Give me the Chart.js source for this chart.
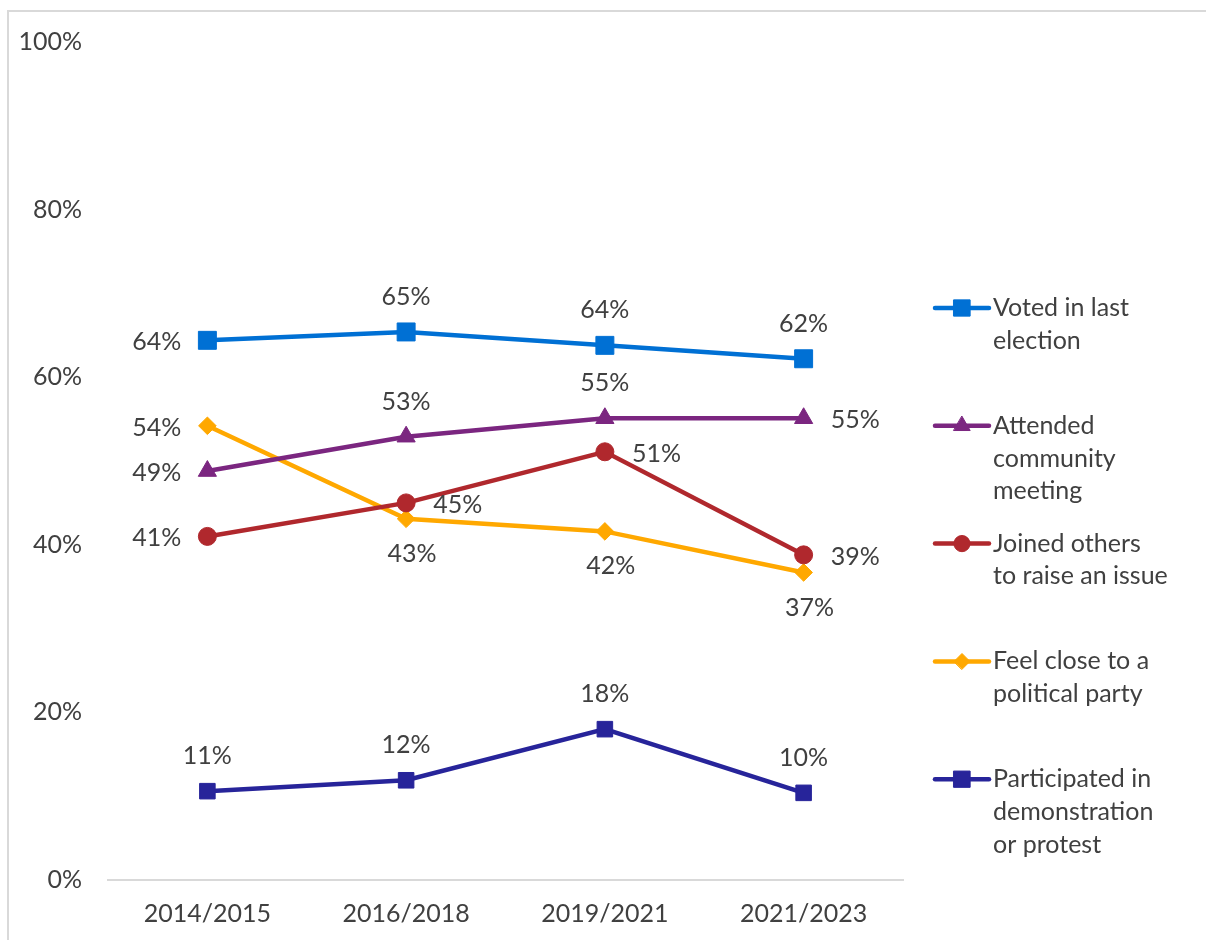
<!DOCTYPE html>
<html>
<head>
<meta charset="utf-8">
<script src="https://cdn.jsdelivr.net/npm/chart.js@4.4.0/dist/chart.umd.min.js"></script>
<style>
  html, body { margin: 0; padding: 0; background: #fff; overflow: hidden; }
</style>
</head>
<body>
<canvas id="grafico" width="1206" height="940"></canvas>
<script>
// dados
const categorias = ['2014/2015', '2016/2018', '2019/2021', '2021/2023'];
const votou = [64.4, 65.4, 63.8, 62.2];
const reuniao = [48.8, 52.9, 55.1, 55.1];
const juntou = [41.0, 45.0, 51.1, 38.8];
const partido = [54.2, 43.1, 41.6, 36.7];
const protesto = [10.6, 11.9, 18.0, 10.4];
const ticksY = [0, 20, 40, 60, 80, 100];

const nomes = [
  ['Voted in last', 'election'],
  ['Attended', 'community', 'meeting'],
  ['Joined others', 'to raise an issue'],
  ['Feel close to a', 'political party'],
  ['Participated in', 'demonstration', 'or protest']
];

const fonte = 'Lato, "Open Sans", sans-serif';
const corTexto = '#404040';

function serie(nome, dados, cor, estilo, raio, posicoes) {
  return {
    label: nome.join(' '),
    linhas: nome,
    data: dados,
    borderColor: cor,
    backgroundColor: cor,
    borderWidth: 4.5,
    pointStyle: estilo,
    pointRadius: raio,
    pointBorderWidth: 1,
    pointBackgroundColor: cor,
    pointBorderColor: cor,
    tension: 0,
    posicoes: posicoes
  };
}

// rotulos de dados
const rotulos = {
  id: 'rotulos',
  afterDatasetsDraw(chart) {
    const ctx = chart.ctx;
    ctx.save();
    ctx.font = '25px ' + fonte;
    ctx.fillStyle = corTexto;
    chart.data.datasets.forEach((ds, i) => {
      const meta = chart.getDatasetMeta(i);
      meta.data.forEach((pt, j) => {
        const txt = Math.round(ds.data[j]) + '%';
        const pos = ds.posicoes[j];
        let x = pt.x, y = pt.y;
        ctx.textBaseline = 'middle';
        if (pos === 'left') { ctx.textAlign = 'right'; x -= 26; y += 2; }
        else if (pos === 'right') { ctx.textAlign = 'left'; x += 27; y += 2; }
        else if (pos === 'top') { ctx.textAlign = 'center'; y -= 35; }
        else { ctx.textAlign = 'center'; x += 6; y += 35; }
        ctx.fillText(txt, x, y);
      });
    });
    ctx.restore();
  }
};

// legenda com texto quebrado
const legenda = {
  id: 'legenda',
  afterDraw(chart) {
    const ctx = chart.ctx;
    const area = chart.chartArea;
    const x0 = area.right + 30;
    ctx.save();
    chart.data.datasets.forEach((ds, i) => {
      const y = 308 + i * 117.8;
      ctx.strokeStyle = ds.borderColor;
      ctx.fillStyle = ds.borderColor;
      ctx.lineWidth = 4.5;
      ctx.lineCap = 'round';
      ctx.beginPath();
      ctx.moveTo(x0 + 2, y);
      ctx.lineTo(x0 + 56, y);
      ctx.stroke();
      ctx.lineWidth = 1;
      Chart.helpers.drawPoint(ctx, {
        pointStyle: ds.pointStyle,
        radius: ds.pointStyle === 'rect' ? 11.5 : ds.pointRadius * 0.9,
        borderWidth: 1,
        rotation: 0
      }, x0 + 29, y);
      ctx.font = '25px ' + fonte;
      ctx.fillStyle = corTexto;
      ctx.textAlign = 'left';
      ctx.textBaseline = 'middle';
      ds.linhas.forEach((l, k) => ctx.fillText(l, x0 + 60, y + k * 32.7));
    });
    ctx.restore();
  }
};

// moldura cinza
const moldura = {
  id: 'moldura',
  beforeDraw(chart) {
    const ctx = chart.ctx;
    ctx.save();
    ctx.fillStyle = '#fff';
    ctx.fillRect(0, 0, chart.width, chart.height);
    ctx.strokeStyle = '#d9d9d9';
    ctx.lineWidth = 2;
    ctx.beginPath();
    ctx.moveTo(8, chart.height);
    ctx.lineTo(8, 11);
    ctx.lineTo(chart.width, 11);
    ctx.stroke();
    ctx.restore();
  }
};

window.addEventListener('load', () => {
  const grafico = document.getElementById('grafico');
  new Chart(grafico, {
    type: 'line',
    data: {
      labels: categorias,
      datasets: [
        serie(nomes[0], votou, '#0070d4', 'rect', 12.7, ['left', 'top', 'top', 'top']),
        serie(nomes[1], reuniao, '#7b2680', 'triangle', 10.5, ['left', 'top', 'top', 'right']),
        serie(nomes[2], juntou, '#b0282d', 'circle', 9, ['left', 'right', 'right', 'right']),
        serie(nomes[3], partido, '#ffa800', 'rectRot', 8.8, ['left', 'bottom', 'bottom', 'bottom']),
        serie(nomes[4], protesto, '#27249a', 'rect', 11, ['top', 'top', 'top', 'top'])
      ]
    },
    options: {
      responsive: false,
      devicePixelRatio: 1,
      animation: false,
      layout: { padding: { left: 8, right: 303, top: 42, bottom: 0 } },
      plugins: { legend: { display: false }, tooltip: { enabled: false } },
      scales: {
        x: {
          offset: true,
          grid: { display: false, drawTicks: false },
          border: { display: true, color: '#d9d9d9', width: 2 },
          ticks: { color: corTexto, font: { family: fonte, size: 25 }, padding: 19 },
          afterFit: (s) => { s.height = 60; }
        },
        y: {
          min: 0,
          max: 100,
          afterBuildTicks: (s) => { s.ticks = ticksY.map(v => ({ value: v })); },
          grid: { display: false, drawTicks: false },
          border: { display: false },
          ticks: {
            color: corTexto,
            font: { family: fonte, size: 25 },
            padding: 26,
            callback: (v) => v + '%'
          },
          afterFit: (s) => { s.width = 100; }
        }
      }
    },
    plugins: [moldura, rotulos, legenda]
  });
});
</script>
</body>
</html>
